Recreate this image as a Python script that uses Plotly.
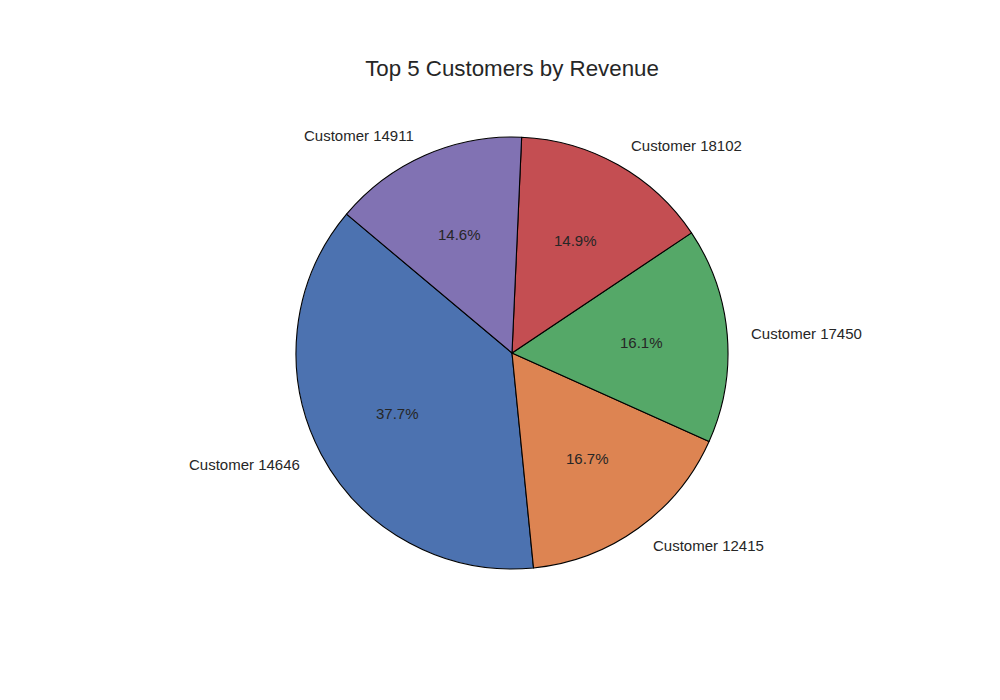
import math
import plotly.graph_objects as go

labels = ["Customer 14646", "Customer 12415", "Customer 17450", "Customer 18102", "Customer 14911"]
shares = [37.7, 16.7, 16.1, 14.9, 14.6]
colors = ["#4C72B0", "#DD8452", "#55A868", "#C44E52", "#8172B3"]

start_angle = 140.0  # degrees, counterclockwise from 3 o'clock
total = sum(shares)
font_family = "Liberation Sans, Arial, sans-serif"
text_color = "#262626"

W, H = 1000, 700
cx_px, cy_px, r_px = 504, 355, 216  # pie centre (from left / from bottom) and radius in px
ext = 1.3  # axis half-range in pie radii

dom_x = [(cx_px - r_px) / W, (cx_px + r_px) / W]
dom_y = [(cy_px - r_px) / H, (cy_px + r_px) / H]
ax_x = [(cx_px - ext * r_px) / W, (cx_px + ext * r_px) / W]
ax_y = [(cy_px - ext * r_px) / H, (cy_px + ext * r_px) / H]

fig = go.Figure()
# plotly places the end of the first slice at `rotation` when counterclockwise
first_span = shares[0] / total * 360
fig.add_trace(go.Pie(
    labels=labels, values=shares, sort=False, direction="counterclockwise",
    rotation=90 - start_angle - first_span,
    marker=dict(colors=colors, line=dict(color="black", width=1.1)),
    textinfo="none", hoverinfo="label+percent", showlegend=False,
    domain=dict(x=dom_x, y=dom_y),
))

# invisible axes matching the pie, used to place matplotlib-style labels
fig.add_trace(go.Scatter(x=[0], y=[0], mode="markers", marker=dict(opacity=0),
                         showlegend=False, hoverinfo="skip"))

annotations = []
cum = 0.0
for lab, v in zip(labels, shares):
    mid = math.radians(start_angle + (cum + v / 2) / total * 360)
    cum += v
    cx, cy = math.cos(mid), math.sin(mid)
    annotations.append(dict(
        x=1.1 * cx, y=1.1 * cy, xref="x", yref="y", text=lab, showarrow=False,
        xanchor="right" if cx < 0 else "left", yanchor="middle",
        font=dict(family=font_family, size=15, color=text_color),
    ))
    annotations.append(dict(
        x=0.6 * cx, y=0.6 * cy, xref="x", yref="y", text=f"{v / total * 100:.1f}%",
        showarrow=False, xanchor="center", yanchor="middle",
        font=dict(family=font_family, size=15, color=text_color),
    ))

fig.update_layout(
    width=W, height=H,
    margin=dict(l=0, r=0, t=0, b=0),
    paper_bgcolor="white", plot_bgcolor="rgba(0,0,0,0)",
    title=dict(text="Top 5 Customers by Revenue", x=0.504, xanchor="center",
               y=1 - 60 / 700, yanchor="middle",
               font=dict(family=font_family, size=22.3, color=text_color)),
    xaxis=dict(domain=ax_x, range=[-ext, ext], visible=False, fixedrange=True),
    yaxis=dict(domain=ax_y, range=[-ext, ext], visible=False, fixedrange=True),
    annotations=annotations,
)

fig.write_html("out.html")
